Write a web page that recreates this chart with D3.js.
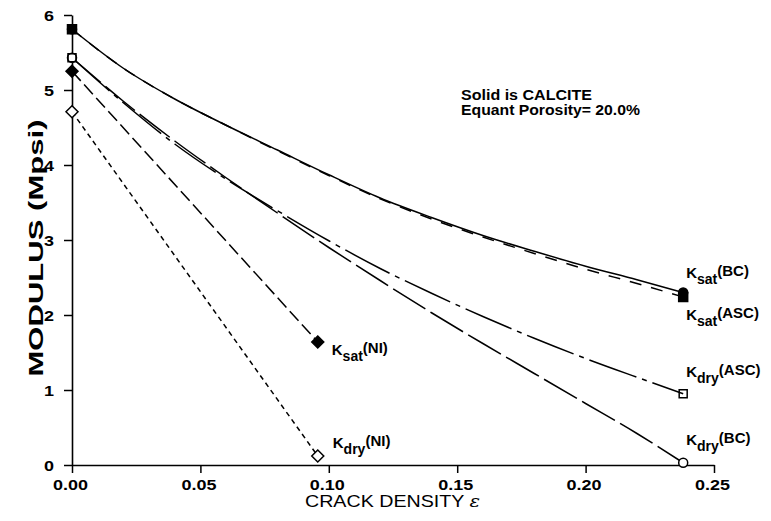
<!DOCTYPE html>
<html><head><meta charset="utf-8">
<script src="https://cdn.jsdelivr.net/npm/d3@7"></script>
<style>
html,body{margin:0;padding:0;background:#fff;}
svg{display:block;}
text{font-family:"Liberation Sans",Arial,Helvetica,sans-serif;fill:#000;}
</style></head>
<body>
<svg id="chart" width="771" height="521"></svg>
<script>
// ---- data ----
const crackDensity = [0, 0.02, 0.04, 0.06, 0.08, 0.10, 0.12, 0.14, 0.16, 0.18, 0.20, 0.22, 0.238];
const ksatBC  = [5.81, 5.29, 4.88, 4.53, 4.20, 3.87, 3.56, 3.30, 3.06, 2.85, 2.65, 2.47, 2.30];
const ksatASC = [5.81, 5.29, 4.88, 4.53, 4.19, 3.86, 3.55, 3.28, 3.04, 2.82, 2.61, 2.42, 2.24];
const kdryBC  = [5.43, 4.85, 4.32, 3.83, 3.36, 2.90, 2.46, 2.03, 1.62, 1.22, 0.82, 0.42, 0.03];
const kdryASC = [5.43, 4.83, 4.28, 3.81, 3.39, 2.99, 2.62, 2.29, 1.98, 1.69, 1.42, 1.17, 0.95];
const niDensity = [0, 0.0957];
const ksatNI = [5.25, 1.64];
const kdryNI = [4.71, 0.12];
const xTicks = [0, 0.05, 0.10, 0.15, 0.20, 0.25];
const xTickLabels = ["0.00", "0.05", "0.10", "0.15", "0.20", "0.25"];
const yTicks = [0, 1, 2, 3, 4, 5, 6];
const yTickLabels = ["0", "1", "2", "3", "4", "5", "6"];
const annotation = ["Solid is CALCITE", "Equant Porosity= 20.0%"];

// ---- layout ----
const svg = d3.select("#chart");
const x = d3.scaleLinear().domain([0, 0.25]).range([72, 714]);
const y = d3.scaleLinear().domain([0, 6]).range([465, 15]);

// axes
const xAxis = d3.axisBottom(x).tickValues(xTicks).tickSize(8).tickSizeOuter(0)
  .tickFormat((d, i) => xTickLabels[i]);
const gx = svg.append("g").attr("transform", `translate(0,${y(0)})`).call(xAxis);
gx.select(".domain").attr("stroke", "#000").attr("stroke-width", 1.6);
gx.selectAll(".tick line").attr("stroke", "#000").attr("stroke-width", 1.5);
gx.selectAll(".tick text").attr("font-size", 15).attr("font-weight", "bold")
  .attr("y", 25).attr("dy", 0).attr("dx", -2)
  .attr("textLength", 35).attr("lengthAdjust", "spacingAndGlyphs")
  .style("font-family", "'Liberation Sans',Arial,sans-serif");

const yAxis = d3.axisLeft(y).tickValues(yTicks).tickSize(8).tickSizeOuter(0)
  .tickFormat((d, i) => yTickLabels[i]);
const gy = svg.append("g").attr("transform", `translate(${x(0)},0)`).call(yAxis);
gy.select(".domain").attr("stroke", "#000").attr("stroke-width", 1.6);
gy.selectAll(".tick line").attr("stroke", "#000").attr("stroke-width", 1.5);
gy.selectAll(".tick text").attr("font-size", 15).attr("font-weight", "bold")
  .attr("x", -18).attr("dy", "0.36em")
  .attr("textLength", 10).attr("lengthAdjust", "spacingAndGlyphs")
  .style("font-family", "'Liberation Sans',Arial,sans-serif");

// axis titles
svg.append("text")
  .attr("transform", `translate(43,${(y(0)+y(6))/2 + 8}) rotate(-90)`)
  .attr("text-anchor", "middle").attr("font-size", 20).attr("font-weight", "bold")
  .attr("textLength", 257).attr("lengthAdjust", "spacingAndGlyphs")
  .text("MODULUS (Mpsi)");

const xt = svg.append("text")
  .attr("x", 305).attr("y", 507)
  .attr("font-size", 17)
  .attr("textLength", 175).attr("lengthAdjust", "spacingAndGlyphs");
xt.append("tspan").text("CRACK DENSITY ");
xt.append("tspan").attr("font-family", "'DejaVu Serif',serif").attr("font-style", "italic").text("ε");

// lines
const curve = d3.line().x(d => x(d[0])).y(d => y(d[1])).curve(d3.curveMonotoneX);
const straight = d3.line().x(d => x(d[0])).y(d => y(d[1]));
const zipS = (xs, ys) => xs.map((v, i) => [v, ys[i]]);

const series = [
  {vals: ksatBC, dash: null},
  {vals: ksatASC, dash: "12,10"},
  {vals: kdryBC, dash: "38,6"},
  {vals: kdryASC, dash: "50,6,5,6"}
];
series.forEach(s => {
  svg.append("path").datum(zipS(crackDensity, s.vals))
    .attr("d", curve).attr("fill", "none").attr("stroke", "#000")
    .attr("stroke-width", 1.5).attr("stroke-dasharray", s.dash);
});
svg.append("path").datum(zipS(niDensity, ksatNI)).attr("d", straight)
  .attr("fill", "none").attr("stroke", "#000").attr("stroke-width", 1.5).attr("stroke-dasharray", "13,5");
svg.append("path").datum(zipS(niDensity, kdryNI)).attr("d", straight)
  .attr("fill", "none").attr("stroke", "#000").attr("stroke-width", 1.5).attr("stroke-dasharray", "5,4");

// markers
const last = crackDensity.length - 1;
function circle(cx, cy, filled) {
  svg.append("circle").attr("cx", x(cx)).attr("cy", y(cy)).attr("r", 4.5)
    .attr("fill", filled ? "#000" : "#fff").attr("stroke", "#000").attr("stroke-width", 1.5);
}
function square(cx, cy, filled) {
  const s = filled ? 9 : 8;
  svg.append("rect").attr("x", x(cx) - s/2).attr("y", y(cy) - s/2).attr("width", s).attr("height", s)
    .attr("fill", filled ? "#000" : "none").attr("stroke", "#000").attr("stroke-width", 1.5);
}
function diamond(cx, cy, filled) {
  const r = 6;
  const px = x(cx), py = y(cy);
  svg.append("path").attr("d", `M${px},${py-r}L${px+r},${py}L${px},${py+r}L${px-r},${py}Z`)
    .attr("fill", filled ? "#000" : "#fff").attr("stroke", "#000").attr("stroke-width", 1.5);
}
circle(crackDensity[0], ksatBC[0], true);
square(crackDensity[0], ksatASC[0], true);
circle(crackDensity[0], kdryBC[0], false);
square(crackDensity[0], kdryASC[0], false);
diamond(niDensity[0], ksatNI[0], true);
diamond(niDensity[0], kdryNI[0], false);
square(crackDensity[last], ksatASC[last], true);
circle(crackDensity[last], ksatBC[last], true);
square(crackDensity[last], kdryASC[last], false);
circle(crackDensity[last], kdryBC[last], false);
diamond(niDensity[1], ksatNI[1], true);
diamond(niDensity[1], kdryNI[1], false);

// curve labels
function klabel(px, py, sub, model) {
  const t = svg.append("text").attr("x", px).attr("y", py).attr("font-weight", "bold").attr("font-size", 15);
  t.append("tspan").text("K");
  t.append("tspan").attr("dy", 6).attr("font-size", 14).text(sub);
  t.append("tspan").attr("dy", -8).text("(" + model + ")");
}
klabel(x(crackDensity[last]) + 3, y(ksatBC[last]) - 15, "sat", "BC");
klabel(x(crackDensity[last]) + 3, y(ksatASC[last]) + 23, "sat", "ASC");
klabel(x(crackDensity[last]) + 3, y(kdryASC[last]) - 17, "dry", "ASC");
klabel(x(crackDensity[last]) + 3, y(kdryBC[last]) - 18, "dry", "BC");
klabel(x(niDensity[1]) + 14, y(ksatNI[1]) + 13, "sat", "NI");
klabel(x(niDensity[1]) + 15, y(kdryNI[1]) - 8, "dry", "NI");

// annotation
const annLen = [131, 179];
annotation.forEach((s, i) => {
  svg.append("text").attr("x", 461).attr("y", 100 + i * 15)
    .attr("font-size", 14).attr("font-weight", "bold")
    .attr("textLength", annLen[i]).attr("lengthAdjust", "spacingAndGlyphs").text(s);
});
</script>
</body></html>
